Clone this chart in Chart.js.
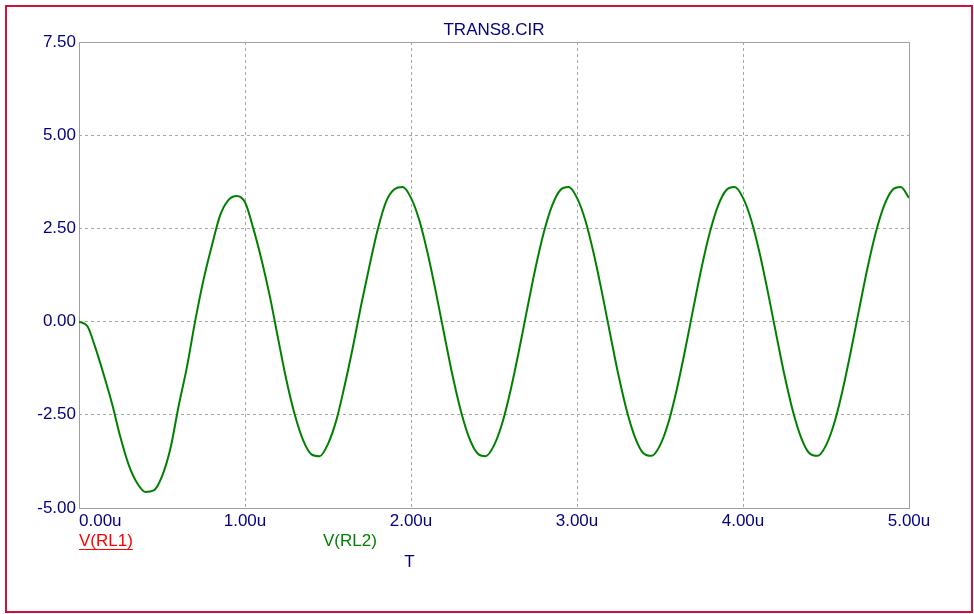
<!DOCTYPE html>
<html>
<head>
<meta charset="utf-8">
<script src="https://cdn.jsdelivr.net/npm/chart.js@4.4.1/dist/chart.umd.min.js"></script>
<style>
  html, body { margin: 0; padding: 0; background: #ffffff; }
  #wrap { width: 974px; height: 614px; position: relative; }
</style>
</head>
<body>
<div id="wrap"><canvas id="c" width="974" height="614"></canvas></div>
<script>
// ---- data (time in microseconds) ----
const chartTitle = "TRANS8.CIR";
const timeUs = [
  0.00,0.05,0.10,0.15,0.20,0.25,0.30,0.35,0.40,0.45,
  0.50,0.55,0.60,0.65,0.70,0.75,0.80,0.85,0.90,0.95,
  1.00,1.05,1.10,1.15,1.20,1.25,1.30,1.35,1.40,1.45,
  1.50,1.55,1.60,1.65,1.70,1.75,1.80,1.85,1.90,1.95,
  2.00,2.05,2.10,2.15,2.20,2.25,2.30,2.35,2.40,2.45,
  2.50,2.55,2.60,2.65,2.70,2.75,2.80,2.85,2.90,2.95,
  3.00,3.05,3.10,3.15,3.20,3.25,3.30,3.35,3.40,3.45,
  3.50,3.55,3.60,3.65,3.70,3.75,3.80,3.85,3.90,3.95,
  4.00,4.05,4.10,4.15,4.20,4.25,4.30,4.35,4.40,4.45,
  4.50,4.55,4.60,4.65,4.70,4.75,4.80,4.85,4.90,4.95,
  5.00
];
const vRL2 = [
  0.00,-0.12,-0.72,-1.44,-2.22,-3.11,-3.85,-4.33,-4.57,-4.53,
  -4.15,-3.42,-2.27,-1.22,0.02,1.12,2.03,2.85,3.26,3.37,
  3.20,2.50,1.65,0.67,-0.47,-1.58,-2.50,-3.18,-3.56,-3.61,
  -3.28,-2.65,-1.72,-0.68,0.45,1.50,2.48,3.22,3.55,3.61,
  3.32,2.72,1.84,0.79,-0.34,-1.44,-2.39,-3.11,-3.53,-3.61,
  -3.32,-2.72,-1.84,-0.79,0.34,1.44,2.39,3.11,3.53,3.61,
  3.32,2.72,1.84,0.79,-0.34,-1.44,-2.39,-3.11,-3.53,-3.60,
  -3.32,-2.72,-1.84,-0.79,0.34,1.44,2.39,3.11,3.53,3.61,
  3.32,2.72,1.84,0.79,-0.34,-1.44,-2.39,-3.11,-3.53,-3.60,
  -3.32,-2.72,-1.84,-0.79,0.34,1.44,2.39,3.11,3.53,3.61,
  3.32
];
const yTicks = [-5.00, -2.50, 0.00, 2.50, 5.00, 7.50];
const xTicks = [0, 1, 2, 3, 4, 5];
const xTickLabels = ["0.00u","1.00u","2.00u","3.00u","4.00u","5.00u"];
const legendLabels = ["V(RL1)", "V(RL2)"];
const xAxisLabel = "T";

const FONT = '"Liberation Sans", Arial, sans-serif';
const NAVY = '#000080';

const points = timeUs.map((t, i) => ({ x: t, y: vRL2[i] }));

const decor = {
  id: 'decor',
  beforeDraw(chart) {
    const ctx = chart.ctx;
    ctx.save();
    ctx.fillStyle = '#ffffff';
    ctx.fillRect(0, 0, chart.width, chart.height);
    ctx.restore();
  },
  beforeDatasetsDraw(chart) {
    const { ctx, chartArea: a } = chart;
    ctx.save();
    ctx.strokeStyle = '#a0a0a0';
    ctx.lineWidth = 1;
    ctx.setLineDash([]);
    ctx.strokeRect(Math.round(a.left) + 0.5, Math.round(a.top) + 0.5,
                   Math.round(a.right - a.left), Math.round(a.bottom - a.top));
    ctx.restore();
  },
  afterDraw(chart) {
    const { ctx, chartArea: a } = chart;
    const xs = chart.scales.x;
    ctx.save();
    ctx.font = '17px ' + FONT;
    ctx.textBaseline = 'middle';
    // title
    ctx.fillStyle = NAVY;
    ctx.textAlign = 'center';
    ctx.fillText(chartTitle, (a.left + a.right) / 2, a.top - 12);
    // x tick labels
    xTicks.forEach((v, i) => {
      const px = xs.getPixelForValue(v);
      ctx.textAlign = i === 0 ? 'left' : 'center';
      ctx.fillText(xTickLabels[i], px, a.bottom + 13);
    });
    // axis label
    ctx.textAlign = 'center';
    ctx.fillText(xAxisLabel, 409.5, a.bottom + 54);
    // legend
    ctx.textAlign = 'left';
    ctx.fillStyle = '#ff0000';
    ctx.fillText(legendLabels[0], a.left, a.bottom + 33);
    const w = ctx.measureText(legendLabels[0]).width;
    ctx.fillRect(a.left, a.bottom + 41, w, 1);
    ctx.fillStyle = '#008000';
    ctx.fillText(legendLabels[1], 323, a.bottom + 33);
    // outer red frame
    ctx.strokeStyle = '#d0103a';
    ctx.lineWidth = 2;
    ctx.strokeRect(6, 6, 966, 606);
    ctx.restore();
  }
};

new Chart(document.getElementById('c'), {
  type: 'line',
  data: {
    datasets: [{
      label: legendLabels[1],
      data: points,
      borderColor: '#008000',
      backgroundColor: '#008000',
      borderWidth: 2,
      pointRadius: 0,
      fill: false,
      cubicInterpolationMode: 'monotone'
    }]
  },
  options: {
    responsive: false,
    animation: false,
    events: [],
    layout: { padding: { left: 0, top: 42, right: 65, bottom: 0 } },
    plugins: { legend: { display: false }, title: { display: false }, tooltip: { enabled: false } },
    scales: {
      x: {
        type: 'linear',
        min: 0, max: 5,
        afterBuildTicks: (s) => { s.ticks = xTicks.map(v => ({ value: v })); },
        afterFit: (s) => { s.height = 106; },
        ticks: { display: false },
        border: { display: false, dash: [3, 3] },
        grid: { color: '#a8a8a8', lineWidth: 1, drawTicks: false }
      },
      y: {
        type: 'linear',
        min: -5, max: 7.5,
        afterBuildTicks: (s) => { s.ticks = yTicks.map(v => ({ value: v })); },
        afterFit: (s) => { s.width = 79; },
        ticks: {
          color: NAVY,
          font: { family: FONT, size: 17 },
          padding: 3,
          callback: (v) => Number(v).toFixed(2)
        },
        border: { display: false, dash: [3, 3] },
        grid: { color: '#a8a8a8', lineWidth: 1, drawTicks: false }
      }
    }
  },
  plugins: [decor]
});
</script>
</body>
</html>
